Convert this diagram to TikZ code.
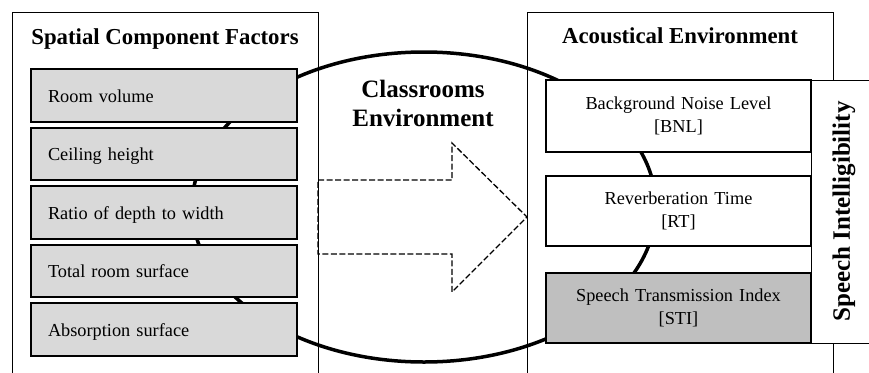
\documentclass[tikz,border=0pt]{standalone}
\usepackage{fontspec}
\setmainfont{Liberation Serif}
\usetikzlibrary{positioning}

\definecolor{factorgray}{RGB}{217,217,217}
\definecolor{indexgray}{RGB}{191,191,191}

\tikzset{
  panel/.style={draw, line width=0.9pt},
  heading/.style={font=\bfseries\fontsize{22.8}{27}\selectfont, inner sep=0pt},
  factor/.style={draw, line width=2pt, fill=factorgray, outer sep=0pt,
    minimum height=52.5pt, text width=232pt, inner xsep=17pt, inner ysep=0pt,
    text height=18pt, text depth=4pt, align=left,
    font=\fontsize{18.3}{22}\selectfont},
  acoustic/.style={draw, line width=2pt, fill=white, outer sep=0pt,
    text width=265pt, inner sep=0pt, align=center,
    font=\fontsize{18.3}{23.5}\selectfont},
}

\begin{document}
\begin{tikzpicture}[x=1pt, y=-1pt]
    \path[use as bounding box, fill=white] (0,0) rectangle (869,372);

    % Classroom environment ring, behind the boxes
    \draw[line width=3.5pt] (424,207) ellipse [x radius=232, y radius=155];

    % Outer panels
    \draw[panel] (12,380) -- (12,12) -- (318,12) -- (318,380);
    \draw[panel] (527,380) -- (527,12) -- (833,12) -- (833,380);
    \node[heading, anchor=base] (spatial) at (165,44) {Spatial Component Factors};
    \node[heading, anchor=base] (acoustical) at (680,43) {Acoustical Environment};

    % Big dashed arrow between the panels
    \draw[dashed, dash pattern=on 6pt off 2.5pt, line width=1.3pt]
        (318,180) -- (452,180) -- (452,143) -- (527,217) -- (452,292) -- (452,254) -- (318,254) -- cycle;
    \node[font=\bfseries\fontsize{25}{29}\selectfont, align=center, inner sep=0pt, anchor=north]
        (classrooms) at (423,80) {Classrooms\\Environment};

    % Speech intelligibility bar
    \node[draw, line width=1pt, fill=white, rotate=90, minimum width=263pt, minimum height=66pt,
          font=\bfseries\fontsize{25}{29}\selectfont] (speech) at (844,211.5) {Speech Intelligibility};

    % Spatial factors
    \node[factor, anchor=north west] (volume) at (31,69) {Room volume};
    \node[factor, below=6pt of volume] (ceiling) {Ceiling height};
    \node[factor, below=6pt of ceiling] (ratio) {Ratio of depth to width};
    \node[factor, below=6pt of ratio] (surface) {Total room surface};
    \node[factor, below=6pt of surface] (absorption) {Absorption surface};

    % Acoustical parameters
    \node[acoustic, anchor=north west, minimum height=72pt] (bnl) at (546,80) {Background Noise Level\\{[BNL]}};
    \node[acoustic, below=24pt of bnl, minimum height=70pt] (rt) {Reverberation Time\\{[RT]}};
    \node[acoustic, below=27pt of rt, minimum height=70pt, fill=indexgray] (sti) {Speech Transmission Index\\{[STI]}};
\end{tikzpicture}
\end{document}
